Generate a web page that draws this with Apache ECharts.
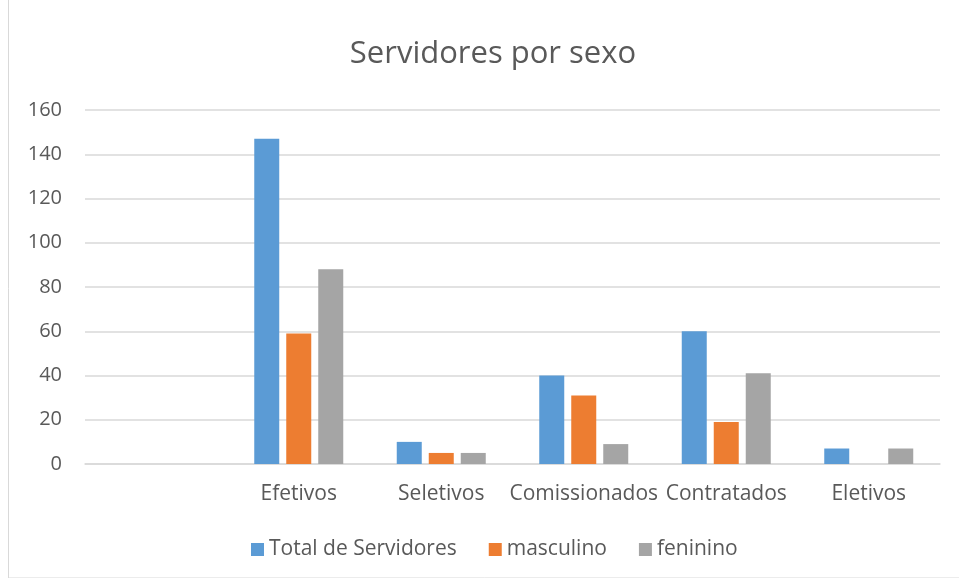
<!DOCTYPE html>
<html>
<head>
<meta charset="utf-8">
<script src="https://cdn.jsdelivr.net/npm/echarts@6/dist/echarts.min.js"></script>
<style>
  html, body { margin: 0; padding: 0; background: #ffffff; }
  #chart { width: 959px; height: 578px; }
</style>
</head>
<body>
<div id="chart"></div>
<script>
// categories (first one is empty in the source sheet)
const categories = ['', 'Efetivos', 'Seletivos', 'Comissionados', 'Contratados', 'Eletivos']
const totalServidores = [null, 147, 10, 40, 60, 7]
const masculino = [null, 59, 5, 31, 19, null]
const feninino = [null, 88, 5, 9, 41, 7]
const yTicks = [0, 20, 40, 60, 80, 100, 120, 140, 160]

const textColor = '#595959'
const fontFamily = '"Open Sans", Lato, sans-serif'

function makeSeries(name, data, color) {
    return {
        name: name,
        type: 'bar',
        data: data,
        barWidth: 25,
        barGap: '28%',
        itemStyle: { color: color }
    }
}

const option = {
    animation: false,
    backgroundColor: '#ffffff',
    textStyle: { fontFamily: fontFamily },
    title: {
        text: 'Servidores por sexo',
        left: 488,
        textAlign: 'center',
        top: 34,
        textStyle: { fontSize: 31, fontWeight: 'normal', color: textColor, fontFamily: fontFamily }
    },
    legend: {
        bottom: 13,
        left: 246,
        itemWidth: 13,
        itemHeight: 13,
        itemGap: 32,
        icon: 'rect',
        textStyle: { fontSize: 21, color: textColor, fontFamily: fontFamily }
    },
    grid: { left: 85, right: 19, top: 110, bottom: 114, containLabel: false },
    xAxis: {
        type: 'category',
        data: categories,
        axisLine: { lineStyle: { color: '#d9d9d9', width: 1.5 } },
        axisTick: { show: false },
        axisLabel: { fontSize: 21, color: textColor, margin: 20, interval: 0, fontFamily: fontFamily }
    },
    yAxis: {
        type: 'value',
        min: yTicks[0],
        max: yTicks[yTicks.length - 1],
        interval: 20,
        axisLine: { show: false },
        axisTick: { show: false },
        axisLabel: { fontSize: 20, color: textColor, margin: 23, fontFamily: fontFamily },
        splitLine: { lineStyle: { color: '#d9d9d9', width: 1.5 } }
    },
    graphic: [{
        type: 'rect',
        shape: { x: 8.5, y: -2, width: 960, height: 580 },
        style: { fill: 'none', stroke: '#d9d9d9', lineWidth: 1 },
        silent: true
    }],
    series: [
        makeSeries('Total de Servidores', totalServidores, '#5b9bd5'),
        makeSeries('masculino', masculino, '#ed7d31'),
        makeSeries('feninino', feninino, '#a5a5a5')
    ]
}

document.addEventListener('DOMContentLoaded', function() {
    const chart = echarts.init(document.getElementById('chart'), null, { renderer: 'canvas' })
    chart.setOption(option)
})
</script>
</body>
</html>
